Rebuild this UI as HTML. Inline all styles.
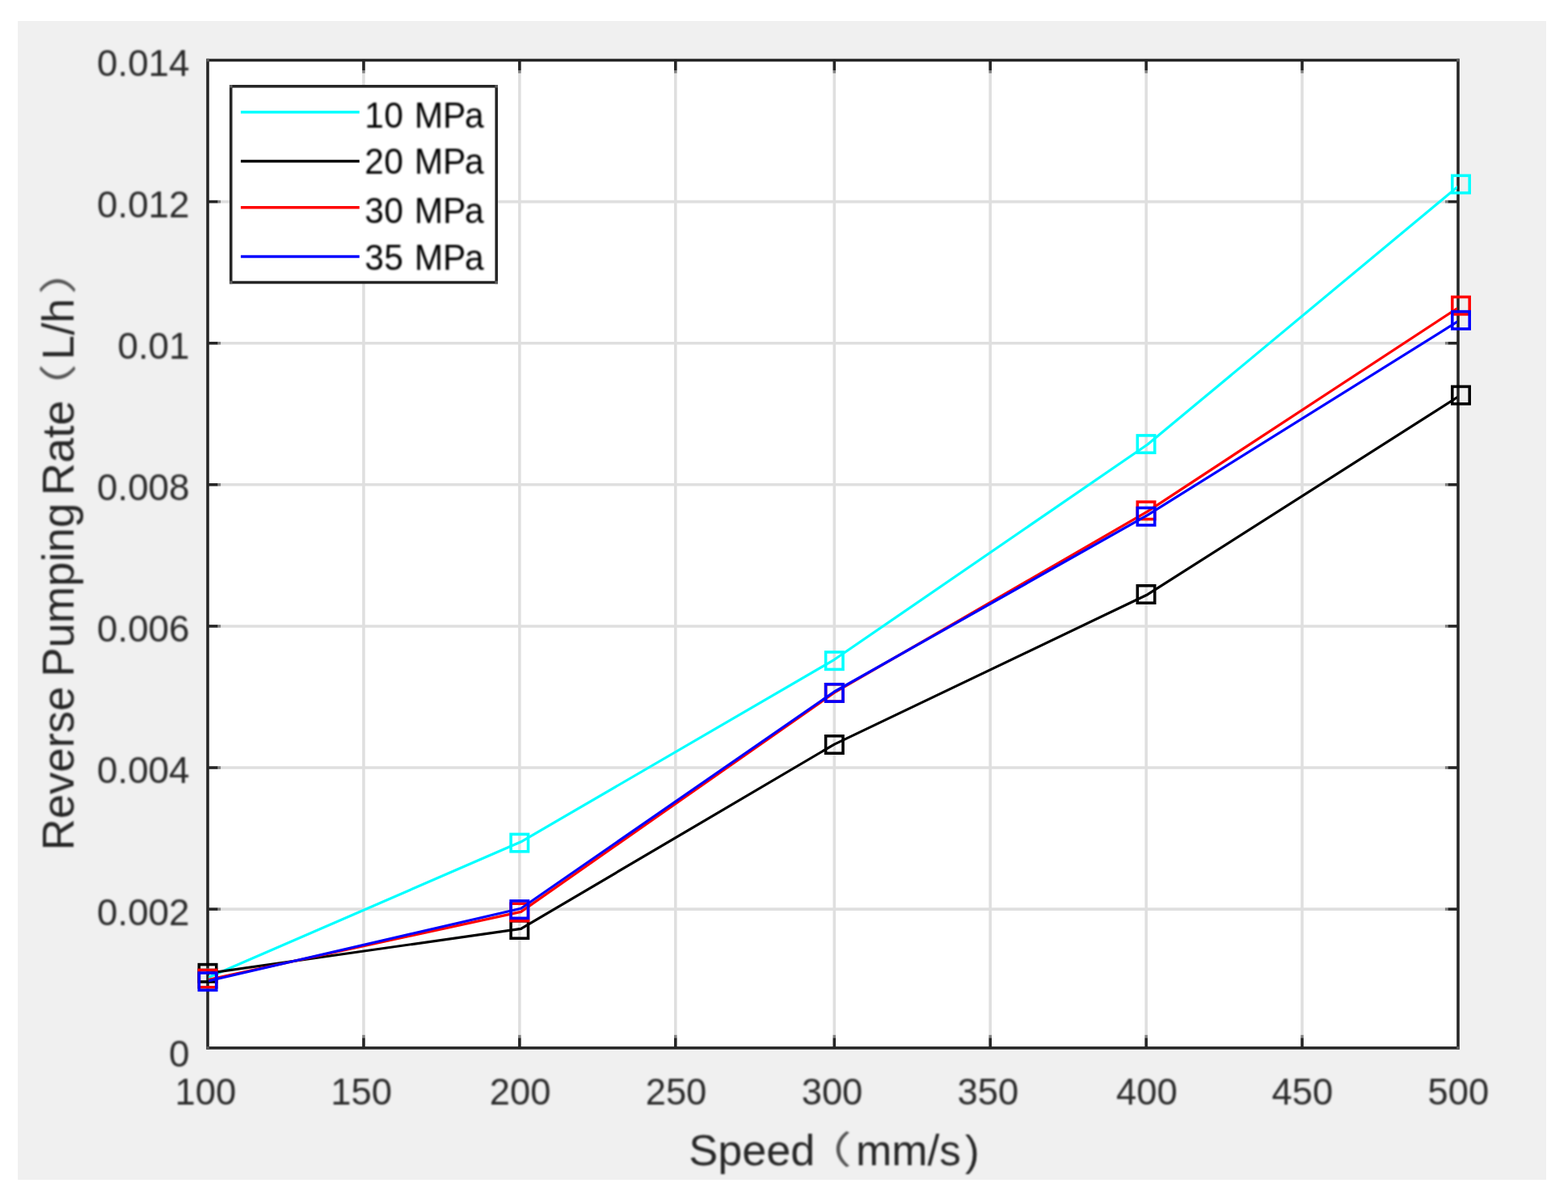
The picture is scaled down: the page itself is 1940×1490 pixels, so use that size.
<!DOCTYPE html>
<html lang="en">
<head>
<meta charset="utf-8">
<title>Reverse Pumping Rate vs Speed</title>
<style>
html,body{margin:0;padding:0;background:#fff;}
body{width:1940px;height:1490px;overflow:hidden;}
svg{display:block;}
text{font-family:"Liberation Sans","Noto Sans CJK SC",sans-serif;font-kerning:none;fill:#2a2a2a;}
.tk{font-size:47px;}
.lb{font-size:54.5px;fill:#262626;}
.pr{font-size:50px;fill:#555;}
.lg{font-size:46px;fill:#000;}
</style>
</head>
<body>
<svg width="1940" height="1490" viewBox="0 0 1940 1490">
<defs><filter id="soft" filterUnits="userSpaceOnUse" x="0" y="0" width="1940" height="1490" color-interpolation-filters="sRGB"><feGaussianBlur stdDeviation="0.8"/></filter></defs>
<rect x="0" y="0" width="1940" height="1490" fill="#fff"/>
<!-- figure background -->
<rect x="22" y="26" width="1891" height="1434" fill="#f0f0f0"/>
<!-- axes area -->
<rect x="257.0" y="74.5" width="1547.0" height="1222.4" fill="#fff"/>
<!-- grid -->
<g stroke="#dfdfdf" stroke-width="3.57" fill="none">
<line x1="449.93" y1="74.5" x2="449.93" y2="1296.9"/>
<line x1="642.85" y1="74.5" x2="642.85" y2="1296.9"/>
<line x1="835.78" y1="74.5" x2="835.78" y2="1296.9"/>
<line x1="1032.28" y1="74.5" x2="1032.28" y2="1296.9"/>
<line x1="1225.2" y1="74.5" x2="1225.2" y2="1296.9"/>
<line x1="1418.13" y1="74.5" x2="1418.13" y2="1296.9"/>
<line x1="1611.05" y1="74.5" x2="1611.05" y2="1296.9"/>
<line x1="257.0" y1="249.6" x2="1804.0" y2="249.6"/>
<line x1="257.0" y1="424.7" x2="1804.0" y2="424.7"/>
<line x1="257.0" y1="599.8" x2="1804.0" y2="599.8"/>
<line x1="257.0" y1="774.91" x2="1804.0" y2="774.91"/>
<line x1="257.0" y1="950.01" x2="1804.0" y2="950.01"/>
<line x1="257.0" y1="1125.11" x2="1804.0" y2="1125.11"/>
</g>
<clipPath id="ax"><rect x="258.19" y="74.5" width="1544.63" height="1222.4"/></clipPath>
<!-- axes box and ticks -->
<g stroke="#262626" stroke-width="3.57" fill="none">
<line x1="449.93" y1="74.5" x2="449.93" y2="87"/>
<line x1="449.93" y1="87" x2="449.93" y2="90.58" stroke-opacity="0.5"/>
<line x1="449.93" y1="1296.9" x2="449.93" y2="1284.4"/>
<line x1="449.93" y1="1284.4" x2="449.93" y2="1280.82" stroke-opacity="0.5"/>
<line x1="642.85" y1="74.5" x2="642.85" y2="87"/>
<line x1="642.85" y1="87" x2="642.85" y2="90.58" stroke-opacity="0.5"/>
<line x1="642.85" y1="1296.9" x2="642.85" y2="1284.4"/>
<line x1="642.85" y1="1284.4" x2="642.85" y2="1280.82" stroke-opacity="0.5"/>
<line x1="835.78" y1="74.5" x2="835.78" y2="87"/>
<line x1="835.78" y1="87" x2="835.78" y2="90.58" stroke-opacity="0.5"/>
<line x1="835.78" y1="1296.9" x2="835.78" y2="1284.4"/>
<line x1="835.78" y1="1284.4" x2="835.78" y2="1280.82" stroke-opacity="0.5"/>
<line x1="1032.28" y1="74.5" x2="1032.28" y2="87"/>
<line x1="1032.28" y1="87" x2="1032.28" y2="90.58" stroke-opacity="0.5"/>
<line x1="1032.28" y1="1296.9" x2="1032.28" y2="1284.4"/>
<line x1="1032.28" y1="1284.4" x2="1032.28" y2="1280.82" stroke-opacity="0.5"/>
<line x1="1225.2" y1="74.5" x2="1225.2" y2="87"/>
<line x1="1225.2" y1="87" x2="1225.2" y2="90.58" stroke-opacity="0.5"/>
<line x1="1225.2" y1="1296.9" x2="1225.2" y2="1284.4"/>
<line x1="1225.2" y1="1284.4" x2="1225.2" y2="1280.82" stroke-opacity="0.5"/>
<line x1="1418.13" y1="74.5" x2="1418.13" y2="87"/>
<line x1="1418.13" y1="87" x2="1418.13" y2="90.58" stroke-opacity="0.5"/>
<line x1="1418.13" y1="1296.9" x2="1418.13" y2="1284.4"/>
<line x1="1418.13" y1="1284.4" x2="1418.13" y2="1280.82" stroke-opacity="0.5"/>
<line x1="1611.05" y1="74.5" x2="1611.05" y2="87"/>
<line x1="1611.05" y1="87" x2="1611.05" y2="90.58" stroke-opacity="0.5"/>
<line x1="1611.05" y1="1296.9" x2="1611.05" y2="1284.4"/>
<line x1="1611.05" y1="1284.4" x2="1611.05" y2="1280.82" stroke-opacity="0.5"/>
<line x1="257.0" y1="249.6" x2="269.5" y2="249.6"/>
<line x1="269.5" y1="249.6" x2="273.08" y2="249.6" stroke-opacity="0.5"/>
<line x1="1804.0" y1="249.6" x2="1791.5" y2="249.6"/>
<line x1="1791.5" y1="249.6" x2="1787.92" y2="249.6" stroke-opacity="0.5"/>
<line x1="257.0" y1="424.7" x2="269.5" y2="424.7"/>
<line x1="269.5" y1="424.7" x2="273.08" y2="424.7" stroke-opacity="0.5"/>
<line x1="1804.0" y1="424.7" x2="1791.5" y2="424.7"/>
<line x1="1791.5" y1="424.7" x2="1787.92" y2="424.7" stroke-opacity="0.5"/>
<line x1="257.0" y1="599.8" x2="269.5" y2="599.8"/>
<line x1="269.5" y1="599.8" x2="273.08" y2="599.8" stroke-opacity="0.5"/>
<line x1="1804.0" y1="599.8" x2="1791.5" y2="599.8"/>
<line x1="1791.5" y1="599.8" x2="1787.92" y2="599.8" stroke-opacity="0.5"/>
<line x1="257.0" y1="774.91" x2="269.5" y2="774.91"/>
<line x1="269.5" y1="774.91" x2="273.08" y2="774.91" stroke-opacity="0.5"/>
<line x1="1804.0" y1="774.91" x2="1791.5" y2="774.91"/>
<line x1="1791.5" y1="774.91" x2="1787.92" y2="774.91" stroke-opacity="0.5"/>
<line x1="257.0" y1="950.01" x2="269.5" y2="950.01"/>
<line x1="269.5" y1="950.01" x2="273.08" y2="950.01" stroke-opacity="0.5"/>
<line x1="1804.0" y1="950.01" x2="1791.5" y2="950.01"/>
<line x1="1791.5" y1="950.01" x2="1787.92" y2="950.01" stroke-opacity="0.5"/>
<line x1="257.0" y1="1125.11" x2="269.5" y2="1125.11"/>
<line x1="269.5" y1="1125.11" x2="273.08" y2="1125.11" stroke-opacity="0.5"/>
<line x1="1804.0" y1="1125.11" x2="1791.5" y2="1125.11"/>
<line x1="1791.5" y1="1125.11" x2="1787.92" y2="1125.11" stroke-opacity="0.5"/>
<rect x="257.0" y="74.5" width="1547.0" height="1222.4"/>
</g>
<rect x="255.22" y="72.72" width="3.57" height="3.57" fill="#5a5a5a"/>
<rect x="255.22" y="1295.12" width="3.57" height="3.57" fill="#5a5a5a"/>
<rect x="1802.21" y="72.72" width="3.57" height="3.57" fill="#5a5a5a"/>
<rect x="1802.21" y="1295.12" width="3.57" height="3.57" fill="#5a5a5a"/>
<!-- data series -->
<polyline points="257,1210 644.6,1041.8 1032.3,816.3 1419.9,550 1807.5,227.8" stroke="#00ffff" stroke-width="3.2" fill="none" stroke-linejoin="round" clip-path="url(#ax)"/>
<rect x="246.3" y="1200.4" width="21.4" height="21.4" stroke="#00ffff" stroke-width="3.57" fill="none"/>
<rect x="632.1" y="1032.4" width="21.4" height="21.4" stroke="#00ffff" stroke-width="3.57" fill="none"/>
<rect x="1021.6" y="807" width="21.4" height="21.4" stroke="#00ffff" stroke-width="3.57" fill="none"/>
<rect x="1407.3" y="538.9" width="21.4" height="21.4" stroke="#00ffff" stroke-width="3.57" fill="none"/>
<rect x="1796.8" y="217.3" width="21.4" height="21.4" stroke="#00ffff" stroke-width="3.57" fill="none"/>
<polyline points="257,1204.6 644.6,1149.3 1032.3,921.1 1419.9,735.7 1807.5,488.8" stroke="#000000" stroke-width="3.2" fill="none" stroke-linejoin="round" clip-path="url(#ax)"/>
<rect x="246.3" y="1193.6" width="21.4" height="21.4" stroke="#000000" stroke-width="3.57" fill="none"/>
<rect x="632.1" y="1139.8" width="21.4" height="21.4" stroke="#000000" stroke-width="3.57" fill="none"/>
<rect x="1021.6" y="910.8" width="21.4" height="21.4" stroke="#000000" stroke-width="3.57" fill="none"/>
<rect x="1407.3" y="724.8" width="21.4" height="21.4" stroke="#000000" stroke-width="3.57" fill="none"/>
<rect x="1796.8" y="478.4" width="21.4" height="21.4" stroke="#000000" stroke-width="3.57" fill="none"/>
<polyline points="257,1212.5 644.6,1128.4 1032.3,857.2 1419.9,632.8 1807.5,378.6" stroke="#ff0000" stroke-width="3.2" fill="none" stroke-linejoin="round" clip-path="url(#ax)"/>
<rect x="246.3" y="1200.4" width="21.4" height="21.4" stroke="#ff0000" stroke-width="3.57" fill="none"/>
<rect x="632.1" y="1118.2" width="21.4" height="21.4" stroke="#ff0000" stroke-width="3.57" fill="none"/>
<rect x="1021.6" y="846.75" width="21.4" height="21.4" stroke="#ff0000" stroke-width="3.57" fill="none"/>
<rect x="1407.3" y="621.1" width="21.4" height="21.4" stroke="#ff0000" stroke-width="3.57" fill="none"/>
<rect x="1796.8" y="367.5" width="21.4" height="21.4" stroke="#ff0000" stroke-width="3.57" fill="none"/>
<polyline points="257,1214.2 644.6,1124.2 1032.3,856 1419.9,637.4 1807.5,395.4" stroke="#0000ff" stroke-width="3.2" fill="none" stroke-linejoin="round" clip-path="url(#ax)"/>
<rect x="246.3" y="1204" width="21.4" height="21.4" stroke="#0000ff" stroke-width="3.57" fill="none"/>
<rect x="632.1" y="1114.9" width="21.4" height="21.4" stroke="#0000ff" stroke-width="3.57" fill="none"/>
<rect x="1021.6" y="846.75" width="21.4" height="21.4" stroke="#0000ff" stroke-width="3.57" fill="none"/>
<rect x="1407.3" y="628.5" width="21.4" height="21.4" stroke="#0000ff" stroke-width="3.57" fill="none"/>
<rect x="1796.8" y="385.6" width="21.4" height="21.4" stroke="#0000ff" stroke-width="3.57" fill="none"/>
<g filter="url(#soft)">
<!-- y tick labels -->
<text class="tk" transform="translate(119.93,93.9) scale(0.975,1)">0.014</text>
<text class="tk" transform="translate(119.93,269) scale(0.975,1)">0.012</text>
<text class="tk" transform="translate(145.41,444.1) scale(0.975,1)">0.01</text>
<text class="tk" transform="translate(119.93,619.2) scale(0.975,1)">0.008</text>
<text class="tk" transform="translate(119.93,794.31) scale(0.975,1)">0.006</text>
<text class="tk" transform="translate(119.93,969.41) scale(0.975,1)">0.004</text>
<text class="tk" transform="translate(119.93,1144.51) scale(0.975,1)">0.002</text>
<text class="tk" transform="translate(209.11,1319.61) scale(0.975,1)">0</text>
<!-- x tick labels -->
<text class="tk" transform="translate(216.57,1366.6) scale(0.9650,1.0000)">100</text>
<text class="tk" transform="translate(409.27,1366.6) scale(0.9650,1.0000)">150</text>
<text class="tk" transform="translate(605.77,1366.6) scale(0.9650,1.0000)">200</text>
<text class="tk" transform="translate(798.67,1366.6) scale(0.9650,1.0000)">250</text>
<text class="tk" transform="translate(991.67,1366.6) scale(0.9650,1.0000)">300</text>
<text class="tk" transform="translate(1184.57,1366.6) scale(0.9650,1.0000)">350</text>
<text class="tk" transform="translate(1381.07,1366.6) scale(0.9650,1.0000)">400</text>
<text class="tk" transform="translate(1573.47,1366.6) scale(0.9650,1.0000)">450</text>
<text class="tk" transform="translate(1766.47,1366.6) scale(0.9650,1.0000)">500</text>
<!-- axis labels -->
<text class="lb" transform="translate(852.28,1441.5) scale(0.9908,0.9900)">Speed</text>
<text class="pr" transform="translate(991.56,1439.8) scale(1.2470,0.9290)">（</text>
<text class="lb" transform="translate(1058.95,1441.5) scale(0.9761,0.9750)">mm/s</text>
<text class="lb" transform="translate(1194.05,1441.5) scale(0.9761,0.9650)">)</text>
<text class="lb" transform="translate(91,1052.54) rotate(-90) scale(1.0000,1.0100)">Reverse </text>
<text class="lb" transform="translate(91,837.84) rotate(-90) scale(1.0000,1.0100)">Pumping </text>
<text class="lb" transform="translate(91,613.36) rotate(-90) scale(1.0250,1.0100)">Rate</text>
<text class="pr" transform="translate(89.3,512.44) rotate(-90) scale(1.2470,0.9290)">（</text>
<text class="lb" transform="translate(91,445.14) rotate(-90) scale(1.0000,1.0100)">L/h</text>
<text class="pr" transform="translate(89.3,364.51) rotate(-90) scale(1.2470,0.9290)">）</text>
</g>
<!-- legend -->
<rect x="285.7" y="106.8" width="328.5" height="242.7" fill="#fff" stroke="#262626" stroke-width="3.57"/>
<rect x="283.91" y="105.02" width="3.57" height="3.57" fill="#5a5a5a"/>
<rect x="283.91" y="347.71" width="3.57" height="3.57" fill="#5a5a5a"/>
<rect x="612.42" y="105.02" width="3.57" height="3.57" fill="#5a5a5a"/>
<rect x="612.42" y="347.71" width="3.57" height="3.57" fill="#5a5a5a"/>
<line x1="297.9" y1="138.8" x2="444.7" y2="138.8" stroke="#00ffff" stroke-width="3.57"/>
<line x1="297.9" y1="199.5" x2="444.7" y2="199.5" stroke="#000000" stroke-width="3.57"/>
<line x1="297.9" y1="256.8" x2="444.7" y2="256.8" stroke="#ff0000" stroke-width="3.57"/>
<line x1="297.9" y1="317.5" x2="444.7" y2="317.5" stroke="#0000ff" stroke-width="3.57"/>
<g filter="url(#soft)">
<text dx="0.5 0.6 0 2 0 -1.6" class="lg" transform="translate(450.7,158) scale(0.9240,0.9750)">10 MPa</text>
<text dx="0.5 0.6 0 2 0 -1.6" class="lg" transform="translate(450.7,215.4) scale(0.9240,0.9750)">20 MPa</text>
<text dx="0.5 0.6 0 2 0 -1.6" class="lg" transform="translate(450.7,276.2) scale(0.9240,0.9750)">30 MPa</text>
<text dx="0.5 0.6 0 2 0 -1.6" class="lg" transform="translate(450.7,333.5) scale(0.9240,0.9750)">35 MPa</text>
</g>
</svg>
</body>
</html>
